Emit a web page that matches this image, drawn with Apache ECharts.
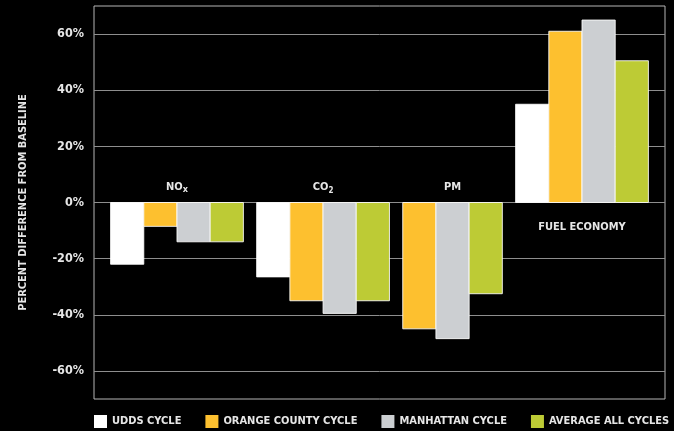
<!DOCTYPE html>
<html>
<head>
<meta charset="utf-8">
<script src="https://cdn.jsdelivr.net/npm/echarts@6/dist/echarts.min.js"></script>
<style>
  html, body { margin: 0; padding: 0; background: #000; }
  #chart { width: 674px; height: 431px; }
</style>
</head>
<body>
<div id="chart"></div>
<script>
// emissions change per test cycle, percent vs baseline
const categories = ['NOx', 'CO2', 'PM', 'FUEL ECONOMY'];
const categoryLabels = ['NO{x|x}', 'CO{sub|2}', 'PM', 'FUEL ECONOMY'];
const seriesNames = ['UDDS CYCLE', 'ORANGE COUNTY CYCLE', 'MANHATTAN CYCLE', 'AVERAGE ALL CYCLES'];
const udds = [-22, -26.5, null, 35];
const orangeCounty = [-8.5, -35, -45, 61];
const manhattan = [-14, -39.5, -48.5, 65];
const averageAll = [-14, -35, -32.5, 50.5];
const yTicks = [-60, -40, -20, 0, 20, 40, 60];

const colors = ['#ffffff', '#fdc02f', '#cccfd2', '#bdcb35'];
const font = '"Liberation Sans Narrow", "DejaVu Sans Condensed", sans-serif';
const allValues = [udds, orangeCounty, manhattan, averageAll];

// bars in a group sit side by side, groups are packed with a small gap;
// a missing value leaves no hole in its group
const edgeGap = 0.5;
const groupGap = 0.4;
const slots = allValues.map(() => []);
const groupCenters = [];
let cursor = edgeGap;
categories.forEach((cat, ci) => {
  if (ci > 0) cursor += groupGap;
  const start = cursor;
  let sum = 0;
  allValues.forEach((vals, si) => {
    if (vals[ci] == null) return;
    slots[si].push([cursor + 0.5, vals[ci], ci]);
    sum += vals[ci];
    cursor += 1;
  });
  groupCenters.push([(start + cursor) / 2, sum < 0 ? -1 : 1, ci]);
});
const xMax = cursor + edgeGap;

const renderBar = color => (params, api) => {
  const x = api.value(0);
  const v = api.value(1);
  const a = api.coord([x - 0.5, v]);
  const b = api.coord([x + 0.5, 0]);
  return {
    type: 'rect',
    shape: {
      x: a[0],
      y: Math.min(a[1], b[1]),
      width: b[0] - a[0],
      height: Math.abs(b[1] - a[1]),
    },
    style: { fill: color, stroke: 'rgba(255,255,255,0.85)', lineWidth: 1 },
  };
};

const renderLabel = (params, api) => {
  const x = api.value(0);
  const side = api.value(1);
  const ci = api.value(2);
  const p = api.coord([x, 0]);
  return {
    type: 'text',
    z2: 10,
    style: {
      text: categoryLabels[ci],
      x: p[0],
      y: side < 0 ? p[1] - 15 : p[1] + 25,
      align: 'center',
      verticalAlign: 'middle',
      fill: '#e6e6e6',
      font: 'bold 11px ' + font,
      rich: {
        x: { fontSize: 9, fontWeight: 'bold', fontFamily: font, fill: '#e6e6e6', verticalAlign: 'bottom', lineHeight: 13 },
        sub: { fontSize: 8, fontWeight: 'bold', fontFamily: font, fill: '#e6e6e6', verticalAlign: 'bottom', lineHeight: 15 },
      },
    },
  };
};

const chart = echarts.init(document.getElementById('chart'));
chart.setOption({
  backgroundColor: '#000',
  animation: false,
  grid: {
    left: 94, right: 9, top: 6, bottom: 32,
    show: true, borderColor: '#b5b5b5', borderWidth: 1,
  },
  legend: {
    left: 94,
    top: 415,
    padding: 0,
    itemWidth: 13,
    itemHeight: 13,
    itemGap: 24,
    icon: 'rect',
    data: seriesNames,
    textStyle: { color: '#e6e6e6', fontFamily: font, fontWeight: 'bold', fontSize: 11, padding: [1, 0, 0, 0] },
  },
  xAxis: {
    type: 'value', min: 0, max: xMax, show: false,
  },
  yAxis: {
    type: 'value',
    min: -70,
    max: 70,
    interval: 10,
    name: 'PERCENT DIFFERENCE FROM BASELINE',
    nameLocation: 'middle',
    nameGap: 65,
    nameTextStyle: { color: '#e6e6e6', fontFamily: font, fontWeight: 'bold', fontSize: 11 },
    axisLine: { show: false },
    axisTick: { show: false },
    axisLabel: {
      margin: 10,
      color: '#e6e6e6',
      fontFamily: font,
      fontWeight: 'bold',
      fontSize: 12.5,
      formatter: v => (yTicks.indexOf(v) >= 0 ? v + '%' : ''),
    },
    splitLine: {
      lineStyle: { color: ['transparent', '#8e8e8e'], width: 1 },
    },
  },
  series: seriesNames.map((name, si) => ({
    type: 'custom',
    name,
    itemStyle: { color: colors[si] },
    renderItem: renderBar(colors[si]),
    encode: { x: 0, y: 1 },
    data: slots[si],
  })).concat([{
    type: 'custom',
    name: 'labels',
    silent: true,
    renderItem: renderLabel,
    encode: { x: 0, y: 1 },
    data: groupCenters,
  }]),
});
</script>
</body>
</html>
